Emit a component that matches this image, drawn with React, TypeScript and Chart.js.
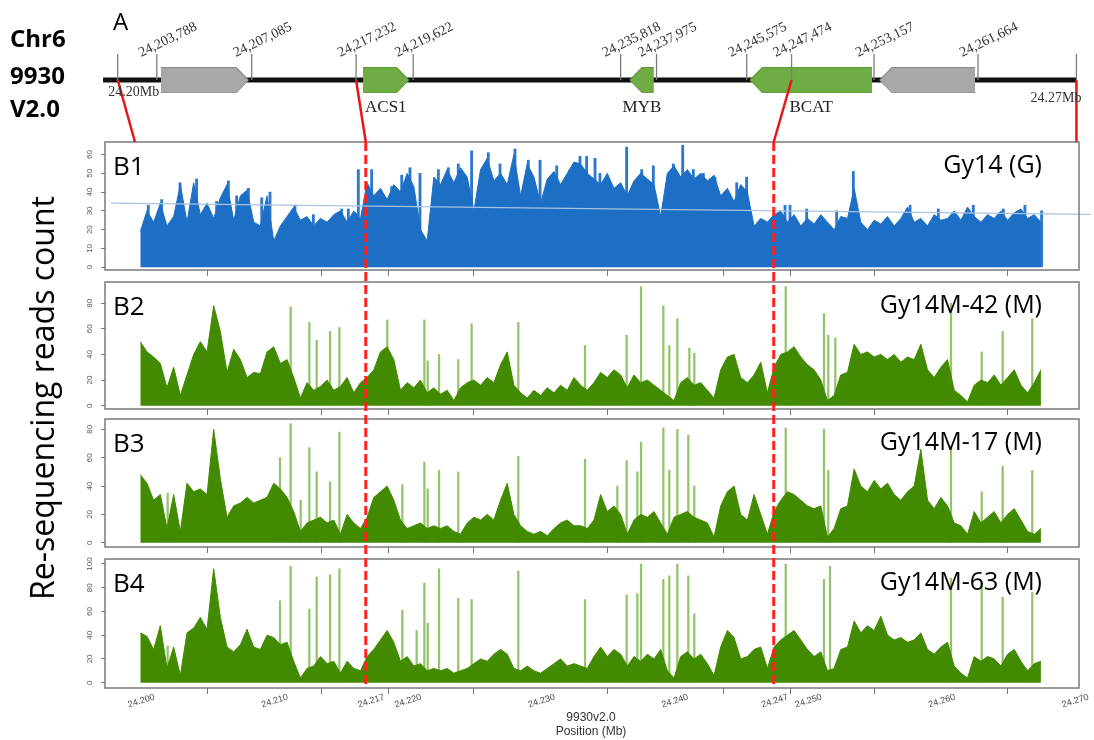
import React, { useEffect, useRef } from 'react';
import { Chart, registerables } from 'chart.js';

Chart.register(...registerables);

// ======================= DATA =======================
// Coverage bins: one value per 0.5 kb bin starting at 24.200 Mb
const BIN_START_MB = 24.2;
const BIN_SIZE_MB = 0.0005;

// B1 Gy14 (G)
const gy14Coverage = [
  19, 30, 24, 34, 22, 27, 44, 24, 45, 28,
  34, 26, 37, 44, 25, 38, 41, 24, 22, 38,
  14, 22, 27, 32, 25, 27, 22, 26, 24, 28,
  30, 24, 30, 26, 45, 38, 42, 36, 44, 40,
  50, 43, 20, 14, 48, 44, 52, 45, 53, 48,
  30, 52, 58, 46, 50, 44, 60, 38, 55, 48,
  34, 47, 51, 44, 50, 56, 55, 50, 47, 44,
  50, 42, 45, 38, 46, 50, 47, 44, 27, 50,
  54, 48, 52, 47, 50, 46, 49, 38, 42, 35,
  44, 40, 22, 26, 24, 28, 30, 24, 28, 22,
  26, 23, 28, 24, 20, 27, 26, 42, 24, 20,
  25, 23, 27, 22, 26, 32, 24, 26, 22, 28,
  25, 26, 30, 25, 32, 27, 24, 28, 26, 30,
  25, 29, 31, 26, 28, 24,
];
const gy14SpikeMb = [
  24.2006, 24.2016, 24.20298, 24.20422, 24.20572, 24.2066, 24.20722, 24.2081,
  24.2091, 24.20972, 24.21159, 24.21297, 24.21509, 24.21559, 24.21634, 24.21734,
  24.21884, 24.21959, 24.22021, 24.22096, 24.22234, 24.22309, 24.22383, 24.22483,
  24.22608, 24.22696, 24.22808, 24.22908, 24.22996, 24.23121, 24.23221, 24.23295,
  24.23345, 24.23408, 24.23445, 24.23645, 24.23758, 24.23845, 24.23995, 24.24065,
  24.24145, 24.2422, 24.24307, 24.2447, 24.24544, 24.24832, 24.24869, 24.24994,
  24.25219, 24.25344, 24.25769, 24.25981, 24.26243, 24.26468, 24.2663, 24.26755,
];
const gy14SpikeReads = [
  33, 36, 45, 47, 35, 46, 38, 42,
  37, 40, 33, 28, 31, 31, 52, 52,
  43, 49, 53, 50, 52, 53, 55, 62,
  61, 55, 63, 57, 57, 54, 52, 59,
  59, 58, 50, 64, 52, 54, 55, 65,
  52, 50, 48, 45, 48, 33, 33, 31,
  30, 51, 33, 31, 33, 31, 33, 30,
];
const gy14TrendMb = [24.1978, 24.2712];
const gy14TrendReads = [34.1, 28.1];

// B2 Gy14M-42 (M)
const m42Coverage = [
  50, 42, 38, 33, 14, 30, 8, 24, 40, 50,
  42, 78, 58, 26, 44, 36, 22, 26, 25, 42,
  46, 33, 36, 22, 6, 18, 12, 15, 20, 12,
  15, 22, 10, 18, 22, 28, 42, 46, 36, 12,
  18, 14, 20, 10, 14, 9, 12, 4, 14, 18,
  20, 16, 22, 18, 32, 42, 16, 10, 6, 12,
  8, 14, 10, 16, 12, 22, 16, 12, 18, 26,
  22, 28, 24, 14, 24, 18, 20, 16, 12, 8,
  4, 18, 22, 16, 18, 12, 6, 28, 38, 40,
  22, 18, 24, 34, 10, 30, 40, 42, 46, 38,
  32, 28, 20, 4, 8, 24, 26, 48, 40, 42,
  38, 40, 36, 40, 34, 38, 36, 48, 28, 22,
  30, 36, 12, 8, 3, 16, 20, 18, 24, 16,
  22, 28, 16, 10, 18, 28,
];
const m42SpikeMb = [
  24.21127, 24.21267, 24.21322, 24.21422, 24.21492, 24.21851, 24.22129, 24.22154,
  24.22239, 24.22383, 24.22483, 24.22833, 24.23333, 24.23645, 24.23753, 24.2392,
  24.23965, 24.24025, 24.24115, 24.24152, 24.24837, 24.25124, 24.25156, 24.25209,
  24.26076, 24.26306, 24.26463, 24.26685,
];
const m42SpikeReads = [
  77, 65, 51, 58, 61, 67, 67, 35,
  40, 36, 64, 65, 47, 55, 93, 78,
  47, 68, 45, 41, 93, 72, 55, 53,
  80, 42, 58, 68,
];

// B3 Gy14M-17 (M)
const m17Coverage = [
  48, 42, 30, 34, 10, 34, 8, 42, 36, 38,
  34, 80, 45, 18, 26, 28, 32, 28, 30, 32,
  42, 38, 32, 22, 8, 14, 16, 18, 14, 16,
  6, 20, 14, 10, 18, 32, 36, 40, 30, 16,
  10, 12, 14, 10, 12, 10, 12, 8, 6, 14,
  18, 16, 20, 16, 30, 42, 20, 12, 8, 6,
  8, 5, 10, 14, 16, 12, 12, 10, 16, 34,
  22, 26, 20, 6, 16, 20, 18, 22, 14, 6,
  18, 20, 22, 18, 16, 14, 4, 26, 36, 40,
  20, 16, 34, 20, 6, 22, 30, 36, 34, 30,
  26, 24, 26, 4, 10, 24, 26, 52, 40, 36,
  44, 38, 42, 34, 30, 36, 40, 66, 30, 24,
  32, 26, 14, 12, 6, 22, 14, 18, 22, 14,
  20, 24, 16, 8, 6, 10,
];
const m17SpikeMb = [
  24.20205, 24.21047, 24.21127, 24.21202, 24.21267, 24.21322, 24.21422, 24.21492,
  24.21964, 24.22129, 24.22154, 24.22239, 24.22383, 24.22833, 24.23333, 24.23575,
  24.23645, 24.23725, 24.23753, 24.2392, 24.23965, 24.24025, 24.24107, 24.24152,
  24.24837, 24.25124, 24.25156, 24.26076, 24.26306, 24.26463, 24.26685,
];
const m17SpikeReads = [
  35, 60, 84, 30, 67, 50, 43, 78,
  41, 57, 38, 51, 50, 61, 59, 40,
  58, 50, 71, 81, 51, 80, 76, 40,
  81, 80, 51, 68, 36, 54, 51,
];

// B4 Gy14M-63 (M)
const m63Coverage = [
  42, 39, 28, 48, 12, 30, 6, 42, 46, 55,
  45, 96, 55, 30, 26, 32, 45, 30, 28, 40,
  38, 32, 34, 18, 4, 12, 14, 22, 16, 18,
  8, 18, 12, 10, 22, 28, 36, 44, 34, 18,
  22, 14, 16, 10, 12, 10, 12, 8, 10, 12,
  16, 20, 18, 24, 28, 24, 12, 10, 14, 10,
  8, 12, 16, 20, 14, 16, 14, 12, 22, 30,
  22, 28, 24, 14, 22, 18, 24, 20, 28, 10,
  4, 22, 26, 20, 24, 16, 6, 30, 44, 38,
  20, 22, 28, 30, 12, 30, 36, 40, 44, 36,
  28, 22, 26, 10, 12, 28, 30, 52, 42, 48,
  44, 56, 40, 36, 38, 34, 36, 42, 28, 24,
  30, 34, 14, 8, 4, 22, 18, 22, 20, 14,
  24, 28, 18, 10, 16, 18,
];
const m63SpikeMb = [
  24.20205, 24.21047, 24.21127, 24.21267, 24.21322, 24.21422, 24.21492, 24.21964,
  24.22071, 24.22129, 24.22154, 24.22239, 24.22383, 24.22483, 24.22833, 24.23333,
  24.23645, 24.23725, 24.23753, 24.2392, 24.23965, 24.24025, 24.24107, 24.24152,
  24.24837, 24.25124, 24.25169, 24.26076, 24.26306, 24.26463, 24.26685,
];
const m63SpikeReads = [
  31, 69, 98, 62, 89, 91, 96, 61,
  44, 84, 50, 96, 71, 70, 94, 70,
  74, 75, 100, 87, 90, 100, 90, 58,
  100, 87, 98, 88, 84, 72, 76,
];

// Axis ticks
const axisTickMb = [24.2, 24.21, 24.217232, 24.22, 24.23, 24.24, 24.247474, 24.25, 24.26, 24.27];
const axisTickLabels = ['24.200', '24.210', '24.217', '24.220', '24.230', '24.240', '24.247', '24.250', '24.260', '24.270'];
const gy14YTicks = [0, 10, 20, 30, 40, 50, 60];
const m42YTicks = [0, 20, 40, 60, 80];
const m17YTicks = [0, 20, 40, 60, 80];
const m63YTicks = [0, 20, 40, 60, 80, 100];

// Candidate region markers (dashed)
const markerMb = [24.2169, 24.247474];

// Gene track (schematic, not to scale)
const geneNames = ['', 'ACS1', 'MYB', 'BCAT', ''];
const geneFromMb = [24.20153, 24.21669, 24.2367, 24.24571, 24.25543];
const geneToMb = [24.20809, 24.22011, 24.23849, 24.25485, 24.26258];
const geneStrand = [1, 1, -1, -1, -1];
const geneCandidate = [false, true, true, true, false];

const trackTickMb = [
  24.19831, 24.20124, 24.20835, 24.21617, 24.22045, 24.236,
  24.23869, 24.24545, 24.24881, 24.25499, 24.26278, 24.27016,
];
const trackTickLabels = [
  '24.20Mb', '24,203,788', '24,207,085', '24,217,232', '24,219,622', '24,235,818',
  '24,237,975', '24,245,575', '24,247,474', '24,253,157', '24,261,664', '24.27Mb',
];
const linkFromMb = [24.19831, 24.21617, 24.24881, 24.27016];
const linkToMb = [24.1996, 24.2169, 24.247474, 24.27016];

// ======================= LAYOUT / STYLE =======================
const W = 1094;
const H = 740;
const X_MIN = 24.197354;
const X_MAX = 24.270352;
const PLOT_LEFT = 105;
const PLOT_RIGHT = 1079;
const Y_AXIS_W = 20;
const X_AXIS_H = 6;
const PAD_TOP = 4;

const BLUE = '#1d6fc5';
const GREEN = '#428a00';
const LIGHT_GREEN = '#93c46c';

const TRACK_Y = 80;
const GENE_TOP = 67.5;
const GENE_BOTTOM = 92.5;
const HEAD_MB = 0.0009;
const TICK_TOP = 54;
const LINK_BOTTOM = 142;
const MARK_TOP = 142;
const MARK_BOTTOM = 688;

const SANS = '"Open Sans", "DejaVu Sans", sans-serif';
const SERIF = '"Liberation Serif", "DejaVu Serif", serif';
const AXIS_FONT = '"Liberation Sans", Arial, sans-serif';

const PANELS = [
  { tag: 'B1', sample: 'Gy14 (G)', coverage: gy14Coverage, spikeMb: gy14SpikeMb, spikeReads: gy14SpikeReads,
    yTicks: gy14YTicks, top: 142, bottom: 270, yMin: -1.5, yMax: 66.7, color: BLUE, spikeColor: '#2c79cc', spikeW: 2.2, trend: true, last: false },
  { tag: 'B2', sample: 'Gy14M-42 (M)', coverage: m42Coverage, spikeMb: m42SpikeMb, spikeReads: m42SpikeReads,
    yTicks: m42YTicks, top: 282, bottom: 409, yMin: -2.6, yMax: 96.6, color: GREEN, spikeColor: LIGHT_GREEN, spikeW: 1.6, trend: false, last: false },
  { tag: 'B3', sample: 'Gy14M-17 (M)', coverage: m17Coverage, spikeMb: m17SpikeMb, spikeReads: m17SpikeReads,
    yTicks: m17YTicks, top: 419, bottom: 547, yMin: -3.0, yMax: 87.3, color: GREEN, spikeColor: LIGHT_GREEN, spikeW: 1.6, trend: false, last: false },
  { tag: 'B4', sample: 'Gy14M-63 (M)', coverage: m63Coverage, spikeMb: m63SpikeMb, spikeReads: m63SpikeReads,
    yTicks: m63YTicks, top: 559, bottom: 688, yMin: -4.5, yMax: 104.2, color: GREEN, spikeColor: LIGHT_GREEN, spikeW: 1.6, trend: false, last: true },
];

// ======================= PLUGINS =======================
const panelDecor = {
  id: 'panelDecor',
  afterDatasetsDraw(chart: any, _args: any, opts: any) {
    const { ctx, chartArea: a, scales } = chart;
    ctx.save();
    ctx.fillStyle = '#555';
    ctx.font = `8px ${AXIS_FONT}`;
    ctx.textAlign = 'center';
    ctx.textBaseline = 'middle';
    (opts.yTicks || []).forEach((v: number) => {
      const py = scales.y.getPixelForValue(v);
      ctx.save();
      ctx.translate(a.left - 15, py);
      ctx.rotate(-Math.PI / 2);
      ctx.fillText(String(v), 0, 0);
      ctx.restore();
    });
    ctx.strokeStyle = '#7a7a7a';
    ctx.lineWidth = 1.5;
    ctx.strokeRect(a.left, a.top, a.right - a.left, a.bottom - a.top);
    if (opts.xLabels) {
      ctx.fillStyle = '#444';
      ctx.font = `9px ${AXIS_FONT}`;
      axisTickMb.forEach((v, i) => {
        const px = scales.x.getPixelForValue(v);
        ctx.save();
        ctx.translate(px + 1, a.bottom + 13);
        ctx.rotate(-18 * Math.PI / 180);
        ctx.fillText(axisTickLabels[i], 0, 0);
        ctx.restore();
      });
    }
    ctx.restore();
  },
};

const trackText = {
  id: 'trackText',
  afterDatasetsDraw(chart: any) {
    const { ctx, scales } = chart;
    const x = scales.x;
    const y = scales.y;
    ctx.save();
    ctx.fillStyle = '#333';
    ctx.textAlign = 'center';
    ctx.textBaseline = 'middle';
    ctx.font = `14px ${SERIF}`;
    const last = trackTickLabels.length - 1;
    trackTickLabels.forEach((lab, i) => {
      const px = x.getPixelForValue(trackTickMb[i]);
      if (i === 0) {
        ctx.fillText(lab, px + 16, y.getPixelForValue(92));
        return;
      }
      if (i === last) {
        ctx.textAlign = 'right';
        ctx.fillText(lab, px + 5, y.getPixelForValue(98));
        ctx.textAlign = 'center';
        return;
      }
      ctx.save();
      ctx.translate(px + 11, y.getPixelForValue(40));
      ctx.rotate(-26 * Math.PI / 180);
      ctx.fillText(lab, 0, 0);
      ctx.restore();
    });
    ctx.fillStyle = '#222';
    ctx.font = `17px ${SERIF}`;
    geneNames.forEach((name, i) => {
      if (!name) return;
      const px = x.getPixelForValue((geneFromMb[i] + geneToMb[i]) / 2);
      ctx.fillText(name, px, y.getPixelForValue(108));
    });
    ctx.restore();
  },
};

// ======================= CONFIG BUILDERS =======================
function panelConfig(p: any, canvasTop: number, canvasHeight: number) {
  const coverage = p.coverage.map((v: number, i: number) => ({ x: BIN_START_MB + i * BIN_SIZE_MB, y: v }));
  const spikes = p.spikeMb.map((x: number, i: number) => ({ x, y: p.spikeReads[i] }));
  const datasets: any[] = [
    {
      type: 'bar', data: spikes, backgroundColor: p.spikeColor, barThickness: p.spikeW,
      borderWidth: 0, order: 3,
    },
    {
      type: 'line', data: coverage, borderColor: p.color, backgroundColor: p.color,
      borderWidth: 1, pointRadius: 0, tension: 0, fill: 'origin', order: 2,
    },
  ];
  if (p.trend) {
    datasets.push({
      type: 'line',
      data: gy14TrendMb.map((x, i) => ({ x, y: gy14TrendReads[i] })),
      borderColor: '#a6c3e4', borderWidth: 1.3, pointRadius: 0, fill: false, clip: false, order: 1,
    });
  }
  const boxBottom = p.bottom - canvasTop;
  return {
    type: 'line',
    data: { datasets },
    options: {
      animation: false,
      responsive: false,
      events: [],
      layout: {
        padding: {
          left: PLOT_LEFT - Y_AXIS_W,
          right: W - PLOT_RIGHT,
          top: PAD_TOP,
          bottom: canvasHeight - boxBottom - X_AXIS_H,
        },
      },
      plugins: {
        legend: { display: false },
        tooltip: { enabled: false },
        panelDecor: { yTicks: p.yTicks, xLabels: p.last },
      },
      scales: {
        x: {
          type: 'linear', min: X_MIN, max: X_MAX, offset: false,
          afterBuildTicks: (s: any) => { s.ticks = axisTickMb.map((v) => ({ value: v })); },
          afterFit: (s: any) => { s.height = X_AXIS_H; },
          ticks: { display: false },
          grid: { drawOnChartArea: false, drawTicks: true, tickLength: X_AXIS_H, color: '#777', lineWidth: 1 },
          border: { display: false },
        },
        y: {
          type: 'linear', min: p.yMin, max: p.yMax,
          afterBuildTicks: (s: any) => { s.ticks = p.yTicks.map((v: number) => ({ value: v })); },
          afterFit: (s: any) => { s.width = Y_AXIS_W; },
          ticks: { display: false },
          grid: { drawOnChartArea: false, drawTicks: true, tickLength: 4, color: '#777', lineWidth: 1 },
          border: { display: false },
        },
      },
    },
    plugins: [panelDecor],
  };
}

function overlayConfig() {
  const datasets: any[] = [];
  const common = { pointRadius: 0, tension: 0, clip: false, spanGaps: false };
  datasets.push({
    ...common,
    data: [{ x: trackTickMb[0] - 0.0011, y: TRACK_Y }, { x: trackTickMb[trackTickMb.length - 1], y: TRACK_Y }],
    borderColor: '#111', borderWidth: 5, fill: false, order: 10,
  });
  geneFromMb.forEach((from, i) => {
    const to = geneToMb[i];
    const mid = (GENE_TOP + GENE_BOTTOM) / 2;
    let upper: any[];
    let lower: any[];
    if (geneStrand[i] > 0) {
      upper = [{ x: from, y: GENE_TOP }, { x: to - HEAD_MB, y: GENE_TOP }, { x: to, y: mid }];
      lower = [{ x: from, y: GENE_BOTTOM }, { x: to - HEAD_MB, y: GENE_BOTTOM }, { x: to, y: mid }];
    } else {
      upper = [{ x: from, y: mid }, { x: from + HEAD_MB, y: GENE_TOP }, { x: to, y: GENE_TOP }];
      lower = [{ x: from, y: mid }, { x: from + HEAD_MB, y: GENE_BOTTOM }, { x: to, y: GENE_BOTTOM }];
    }
    const fillC = geneCandidate[i] ? '#6fac46' : '#a8a8a8';
    const edgeC = geneCandidate[i] ? '#609c3a' : '#8a8a8a';
    datasets.push({ ...common, data: upper, fill: '+1', backgroundColor: fillC, borderColor: edgeC, borderWidth: 1.2, order: 8 });
    datasets.push({ ...common, data: lower, fill: false, borderColor: edgeC, borderWidth: 1.2, order: 8 });
  });
  datasets.push({
    ...common,
    data: trackTickMb.flatMap((x) => [{ x, y: TICK_TOP }, { x, y: TRACK_Y }, { x, y: null }]),
    borderColor: '#7d7d7d', borderWidth: 1.3, fill: false, order: 6,
  });
  datasets.push({
    ...common,
    data: linkFromMb.flatMap((x, i) => [{ x, y: TRACK_Y }, { x: linkToMb[i], y: LINK_BOTTOM }, { x: linkToMb[i], y: null }]),
    borderColor: '#e8161b', borderWidth: 2.5, fill: false, order: 4,
  });
  datasets.push({
    ...common,
    data: markerMb.flatMap((x) => [{ x, y: MARK_TOP }, { x, y: MARK_BOTTOM }, { x, y: null }]),
    borderColor: '#ff2020', borderWidth: 3, borderDash: [9, 4], fill: false, order: 2,
  });
  return {
    type: 'line',
    data: { datasets },
    options: {
      animation: false,
      responsive: false,
      events: [],
      layout: { padding: { left: PLOT_LEFT, right: W - PLOT_RIGHT, top: 0, bottom: 0 } },
      plugins: { legend: { display: false }, tooltip: { enabled: false } },
      scales: {
        x: { type: 'linear', display: false, min: X_MIN, max: X_MAX },
        y: { type: 'linear', display: false, min: 0, max: H, reverse: true },
      },
    },
    plugins: [trackText],
  };
}

// ======================= COMPONENTS =======================
function ChartCanvas({ top, height, build }: { top: number; height: number; build: () => any }) {
  const ref = useRef<HTMLCanvasElement | null>(null);
  useEffect(() => {
    const chart = new Chart(ref.current as HTMLCanvasElement, build());
    return () => chart.destroy();
  }, []);
  return (
    <canvas
      ref={ref}
      width={W}
      height={height}
      style={{ position: 'absolute', left: 0, top, width: W, height }}
    />
  );
}

function Txt({ x, base, size, children, weight = 400, family = SANS, align = 'left', color = '#000', k = 0.888 }: any) {
  const style: any = {
    position: 'absolute',
    top: base - k * size,
    fontFamily: family,
    fontSize: size,
    fontWeight: weight,
    lineHeight: 1,
    whiteSpace: 'nowrap',
    color,
  };
  if (align === 'right') style.right = W - x;
  else if (align === 'center') { style.left = x; style.transform = 'translateX(-50%)'; }
  else style.left = x;
  return <div style={style}>{children}</div>;
}

export default function App() {
  return (
    <div style={{ position: 'absolute', left: 0, top: 0, width: W, height: H, background: '#fff', overflow: 'hidden' }}>
      {PANELS.map((p) => {
        const canvasTop = p.top - PAD_TOP;
        const canvasHeight = p.bottom - p.top + PAD_TOP + (p.last ? 40 : 10);
        return (
          <ChartCanvas key={p.tag} top={canvasTop} height={canvasHeight} build={() => panelConfig(p, canvasTop, canvasHeight)} />
        );
      })}
      <ChartCanvas top={0} height={H} build={overlayConfig} />

      <Txt x={10} base={47} size={24} weight={700}>Chr6</Txt>
      <Txt x={10} base={84} size={24} weight={700}>9930</Txt>
      <Txt x={10} base={117} size={24} weight={700}>V2.0</Txt>
      <Txt x={113} base={30} size={24}>A</Txt>

      {PANELS.map((p) => (
        <React.Fragment key={p.tag + 't'}>
          <Txt x={113} base={p.top + 33} size={26}>{p.tag}</Txt>
          <Txt x={1042} base={p.top + 31} size={25} align="right">{p.sample}</Txt>
        </React.Fragment>
      ))}

      <div
        style={{
          position: 'absolute', left: 42, top: 398, transform: 'translate(-50%, -50%) rotate(-90deg)',
          fontFamily: SANS, fontSize: 32, lineHeight: 1, whiteSpace: 'nowrap', color: '#000',
        }}
      >
        Re-sequencing reads count
      </div>

      <Txt x={591} base={721} size={12} family={AXIS_FONT} align="center" color="#333" k={0.847}>9930v2.0</Txt>
      <Txt x={591} base={735} size={12} family={AXIS_FONT} align="center" color="#333" k={0.847}>Position (Mb)</Txt>
    </div>
  );
}
